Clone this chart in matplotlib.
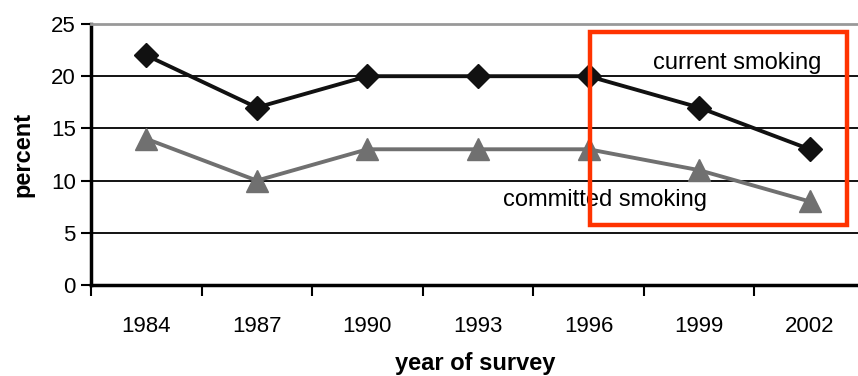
import matplotlib.pyplot as plt
from matplotlib.patches import Rectangle

plt.rcParams['font.family'] = ['Liberation Sans', 'DejaVu Sans']

years = ["1984", "1987", "1990", "1993", "1996", "1999", "2002"]
current_smoking = [22, 17, 20, 20, 20, 17, 13]
committed_smoking = [14, 10, 13, 13, 13, 11, 8]
y_ticks = [0, 5, 10, 15, 20, 25]

fig = plt.figure(figsize=(8.58, 3.76), dpi=100)
ax = fig.add_axes([91 / 858, 1 - 285 / 376, 774 / 858, 261 / 376])

x = list(range(len(years)))
ax.plot(x, current_smoking, color="#111111", lw=2.8, marker="D",
        markersize=12, zorder=4, clip_on=False)
ax.plot(x, committed_smoking, color="#707070", lw=2.8, marker="^",
        markersize=16, zorder=3, clip_on=False)

ax.set_xlim(-0.5, len(years) - 0.5)
ax.set_ylim(0, 25)
ax.set_yticks(y_ticks)
ax.set_xticks([i - 0.5 for i in range(len(years) + 1)])
ax.set_xticklabels([])
ax.set_xticks(x, minor=True)
ax.set_xticklabels(years, minor=True)
ax.tick_params(axis="x", which="minor", length=0, pad=22, labelsize=16)
ax.tick_params(axis="x", which="major", length=8, width=1.5, color="black")
ax.tick_params(axis="y", length=7, width=1.5, labelsize=16, pad=4)

for v in y_ticks[1:-1]:
    ax.axhline(v, color="black", lw=1.3, zorder=1)

ax.spines["left"].set_linewidth(2.5)
ax.spines["bottom"].set_linewidth(2.5)
ax.spines["top"].set_color("#999999")
ax.spines["top"].set_linewidth(2)
ax.spines["right"].set_visible(False)

fig.text(23 / 858, 1 - 154 / 376, "percent", fontsize=17, fontweight="bold",
         rotation=90, ha="center", va="center")
fig.text(475 / 858, 1 - 370 / 376, "year of survey", fontsize=17,
         fontweight="bold", ha="center", va="baseline")

ax.text(5.34, 21.3, "current smoking", fontsize=17, ha="center", va="center")
ax.text(4.15, 8.1, "committed smoking", fontsize=17, ha="center", va="center")

fig.patches.append(Rectangle((590 / 858, 1 - 225 / 376), 257 / 858, 193 / 376,
                             transform=fig.transFigure, fill=False,
                             edgecolor="#ff3300", lw=3.2, zorder=10))

fig.savefig("out.png", dpi=100)
